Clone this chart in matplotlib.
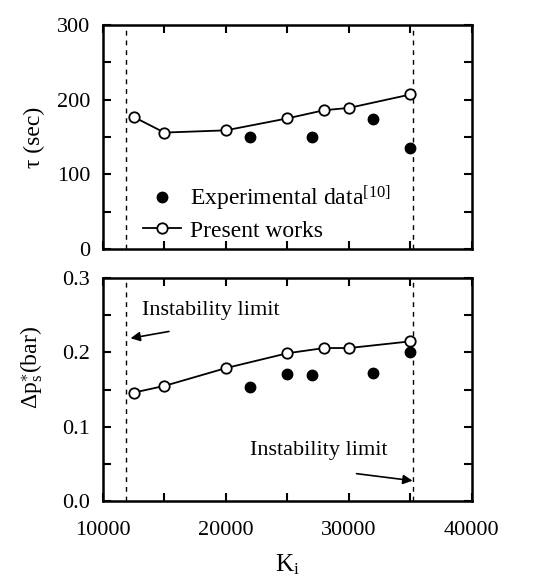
import matplotlib
matplotlib.use('Agg')
import matplotlib.pyplot as plt

plt.rcParams['font.family'] = ['Liberation Serif', 'DejaVu Serif']
plt.rcParams['mathtext.fontset'] = 'custom'
plt.rcParams['mathtext.rm'] = 'Liberation Serif'
plt.rcParams['mathtext.it'] = 'Liberation Serif:italic'

# present works (model)
k_model = [12500, 15000, 20000, 25000, 28000, 30000, 35000]
tau_model = [177, 156, 159, 175, 186, 189, 207]
dp_model = [0.146, 0.155, 0.179, 0.199, 0.206, 0.206, 0.215]

# experimental data [10]
k_exp_tau = [22000, 27000, 32000, 35000]
tau_exp = [150, 150, 174, 136]
k_exp_dp = [22000, 25000, 27000, 32000, 35000]
dp_exp = [0.153, 0.171, 0.170, 0.173, 0.200]

# instability limits
k_limits = [11900, 35200]

fig = plt.figure(figsize=(5.5, 5.82), dpi=100)
ax1 = fig.add_axes([0.187, 0.572, 0.671, 0.385])
ax2 = fig.add_axes([0.187, 0.139, 0.671, 0.383])

FS = 16

for ax in (ax1, ax2):
    for k in k_limits:
        ax.axvline(k, color='black', ls=(0, (3.5, 3.5)), lw=1.0)
    ax.set_xlim(10000, 40000)
    ax.set_xticks([10000, 20000, 30000, 40000])
    ax.set_xticks([15000, 25000, 35000], minor=True)
    ax.tick_params(which='both', direction='in', top=True, right=True,
                   width=1.5, length=6, labelsize=FS)
    ax.tick_params(axis='y', pad=9)
    ax.tick_params(axis='x', pad=14)
    for sp in ax.spines.values():
        sp.set_linewidth(1.8)

# top panel
ax1.plot(k_exp_tau, tau_exp, 'o', color='black', ms=7.5,
         label='Experimental data$^{\\mathrm{[10]}}$')
ax1.plot(k_model, tau_model, '-o', color='black', lw=1.3, ms=7.5,
         mfc='white', mew=1.3, label='Present works')
ax1.set_ylim(0, 300)
ax1.set_yticks([0, 100, 200, 300])
ax1.set_yticks([50, 150, 250], minor=True)
ax1.tick_params(axis='x', labelbottom=False)
ax1.set_ylabel('τ (sec)', fontsize=17)
ax1.yaxis.set_label_coords(-0.157, 0.5)
ax1.legend(loc='lower left', bbox_to_anchor=(0.07, -0.03), frameon=False,
           fontsize=17, handlelength=1.6, handletextpad=0.4,
           labelspacing=0.3, borderaxespad=0.2)

# bottom panel
ax2.plot(k_exp_dp, dp_exp, 'o', color='black', ms=7.5)
ax2.plot(k_model, dp_model, '-o', color='black', lw=1.3, ms=7.5,
         mfc='white', mew=1.3)
ax2.set_ylim(0, 0.3)
ax2.set_yticks([0.0, 0.1, 0.2, 0.3])
ax2.set_yticklabels(['0.0', '0.1', '0.2', '0.3'])
ax2.set_yticks([0.05, 0.15, 0.25], minor=True)
ax2.set_ylabel(r'$\mathrm{\Delta p_s^{\ast}}$(bar)', fontsize=17)
ax2.yaxis.set_label_coords(-0.157, 0.60)
ax2.set_xlabel(r'$\mathrm{K_i}$', fontsize=18, labelpad=9)

ax2.text(13170, 0.256, 'Instability limit', fontsize=FS, ha='left', va='center')
ax2.annotate('', xy=(12030, 0.2185), xytext=(15600, 0.229),
             arrowprops=dict(arrowstyle='-|>', color='black', lw=1.2,
                             mutation_scale=14))
ax2.text(21950, 0.068, 'Instability limit', fontsize=FS, ha='left', va='center')
ax2.annotate('', xy=(35400, 0.027), xytext=(30400, 0.0374),
             arrowprops=dict(arrowstyle='-|>', color='black', lw=1.2,
                             mutation_scale=14))

fig.savefig('out.png', dpi=100)
